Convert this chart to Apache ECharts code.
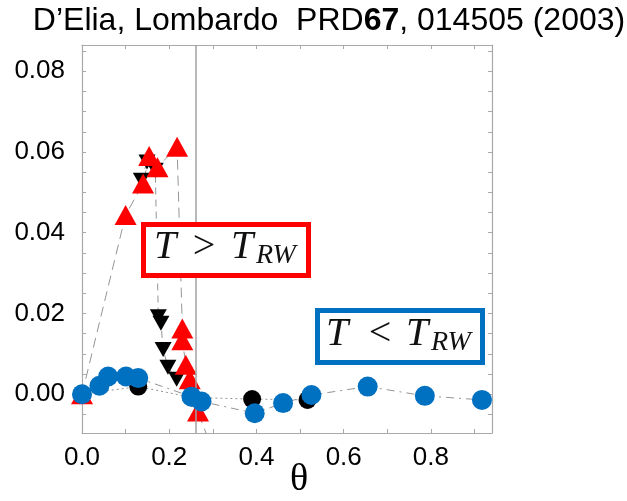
<!DOCTYPE html>
<html>
<head>
<meta charset="utf-8">
<script src="https://cdn.jsdelivr.net/npm/echarts@6/dist/echarts.min.js"></script>
<style>
  html, body { margin: 0; padding: 0; background: #fff; }
  #chart { width: 627px; height: 501px; }
</style>
</head>
<body>
<div id="chart"></div>
<script>
// Red up-triangles (T > T_RW branch)
const redTheta = [0.000, 0.100, 0.140, 0.154, 0.173, 0.218, 0.230, 0.230, 0.238, 0.247, 0.266, 0.320];
const redValue = [0.0000, 0.0444, 0.0522, 0.0590, 0.0562, 0.0613, 0.0163, 0.0134, 0.0073, 0.0037, -0.0043, -0.0200];

// Black down-triangles
const blackTriTheta = [0.136, 0.149, 0.168, 0.175, 0.181, 0.186, 0.197, 0.217];
const blackTriValue = [0.0530, 0.0575, 0.0555, 0.0192, 0.0176, 0.0111, 0.0067, 0.0037];

// Black circles
const blackDotTheta = [0.000, 0.129, 0.252, 0.390, 0.517];
const blackDotValue = [0.0000, 0.0019, -0.0008, -0.0012, -0.0014];

// Blue circles (T < T_RW branch)
const blueTheta = [0.000, 0.040, 0.060, 0.101, 0.129, 0.251, 0.274, 0.396, 0.461, 0.526, 0.655, 0.786, 0.917];
const blueValue = [0.0000, 0.0021, 0.0044, 0.0044, 0.0040, -0.0006, -0.0018, -0.0047, -0.0022, -0.0002, 0.0019, -0.0004, -0.0014];

// Axis ticks and labels
const xLabels = [0, 0.2, 0.4, 0.6, 0.8];
const xTicks = [0, 0.1, 0.2, 0.3, 0.4, 0.5, 0.6, 0.7, 0.8, 0.9];
const yLabels = [0, 0.02, 0.04, 0.06, 0.08];
const yTicks = [-0.005, 0, 0.005, 0.01, 0.015, 0.02, 0.025, 0.03, 0.035, 0.04, 0.045, 0.05, 0.055, 0.06, 0.065, 0.07, 0.075, 0.08, 0.085];
const thetaRW = 0.261;

const pairs = (xs, ys) => xs.map((x, i) => [x, ys[i]]);

const frameColor = '#a8a8a8';
const lineGray = '#959595';
const sans = '"Liberation Sans", Arial, sans-serif';
const serif = '"Liberation Serif", "DejaVu Serif", serif';
const labelFont = { color: '#000', fontFamily: sans, fontSize: 26 };

function xAxisDef(pos, showLabels) {
  return {
    type: 'value', position: pos, min: 0, max: 0.94,
    axisLine: { show: true, onZero: false, lineStyle: { color: frameColor, width: 1.2 } },
    axisTick: { show: true, inside: true, length: 4, customValues: xTicks, lineStyle: { color: frameColor } },
    axisLabel: showLabels ? Object.assign({ show: true, margin: 12, customValues: xLabels,
      formatter: v => v.toFixed(1) }, labelFont) : { show: false },
    splitLine: { show: false }
  };
}
function yAxisDef(pos, showLabels) {
  return {
    type: 'value', position: pos, min: -0.0096, max: 0.0865,
    axisLine: { show: true, onZero: false, lineStyle: { color: frameColor, width: 1.2 } },
    axisTick: { show: true, inside: true, length: 4, customValues: yTicks, lineStyle: { color: frameColor } },
    axisLabel: showLabels ? Object.assign({ show: true, margin: 17, customValues: yLabels,
      formatter: v => v.toFixed(2) }, labelFont) : { show: false },
    splitLine: { show: false }
  };
}

function lineOnly(data, dash, z) {
  return { type: 'line', data, showSymbol: false, symbol: 'none', z,
    lineStyle: { color: lineGray, width: 1, type: dash }, silent: true, animation: false };
}
function marks(data, symbol, size, color, z, rotate) {
  return { type: 'scatter', data, symbol, symbolSize: size, symbolRotate: rotate || 0, z,
    itemStyle: { color, opacity: 1 }, silent: true, animation: false };
}

// Italic math label "T ⋚ T_RW" inside a framed box
function mathBox(x0, y0, w, h, stroke, relation, cy, tx) {
  const text = (t, x, y, size, italic, align) => ({
    type: 'text', z: 11, x, y,
    style: { text: t, fontFamily: serif, fontStyle: italic ? 'italic' : 'normal', fontSize: size,
      fill: '#111', align: align || 'left', verticalAlign: 'middle' }
  });
  return [
    { type: 'rect', z: 10, shape: { x: x0, y: y0, width: w, height: h },
      style: { fill: '#fff', stroke, lineWidth: 5 } },
    text('T', tx[0], cy, 40, true),
    text(relation, tx[1], cy, 40, false, 'center'),
    text('T', tx[2], cy, 40, true),
    text('RW', tx[3], cy + 9, 28, true)
  ];
}

const redData = pairs(redTheta, redValue);
const blackTriData = pairs(blackTriTheta, blackTriValue);
const blackDotData = pairs(blackDotTheta, blackDotValue);
const blueData = pairs(blueTheta, blueValue);

const chart = echarts.init(document.getElementById('chart'), null, { renderer: 'canvas' });
chart.setOption({
  animation: false,
  backgroundColor: '#fff',
  grid: { left: 82, top: 45, right: 135, bottom: 68, containLabel: false },
  xAxis: [xAxisDef('bottom', true), xAxisDef('top', false)],
  yAxis: [yAxisDef('left', true), yAxisDef('right', false)],
  series: [
    Object.assign(lineOnly(redData, [10, 6], 1), {
      markLine: { silent: true, symbol: 'none', label: { show: false },
        lineStyle: { color: '#a0a0a0', width: 1.5, type: 'solid' },
        data: [{ xAxis: thetaRW }] }
    }),
    lineOnly(blackTriData, [7, 5], 1),
    lineOnly(blackDotData, [2, 3], 1),
    lineOnly(blueData, [8, 5, 2, 5], 1),
    marks(blackDotData, 'circle', 18, '#000', 2),
    marks(blackTriData, 'triangle', [17, 15], '#000', 3, 180),
    marks(redData, 'triangle', [22, 20], '#ff0000', 4),
    marks(blueData, 'circle', 20, '#0070c0', 5)
  ],
  graphic: [
    {
      type: 'text', x: 329, y: 21, z: 10,
      style: {
        text: '{n|D’Elia, Lombardo  PRD}{b|67}{n|, 014505 (2003)}',
        align: 'center', verticalAlign: 'middle',
        rich: {
          n: { fontFamily: sans, fontSize: 32, fill: '#000' },
          b: { fontFamily: sans, fontSize: 32, fontWeight: 'bold', fill: '#000' }
        }
      }
    },
    {
      type: 'text', x: 299, y: 480, z: 10,
      style: { text: 'θ', fontFamily: serif, fontSize: 38, fill: '#000', align: 'center', verticalAlign: 'middle' }
    },
    ...mathBox(143.5, 224.5, 165, 51, '#ff0000', '>', 247, [154, 204, 231, 256]),
    ...mathBox(317.5, 310.5, 165, 52, '#0070c0', '<', 334, [326, 380, 406, 431])
  ]
});
</script>
</body>
</html>
